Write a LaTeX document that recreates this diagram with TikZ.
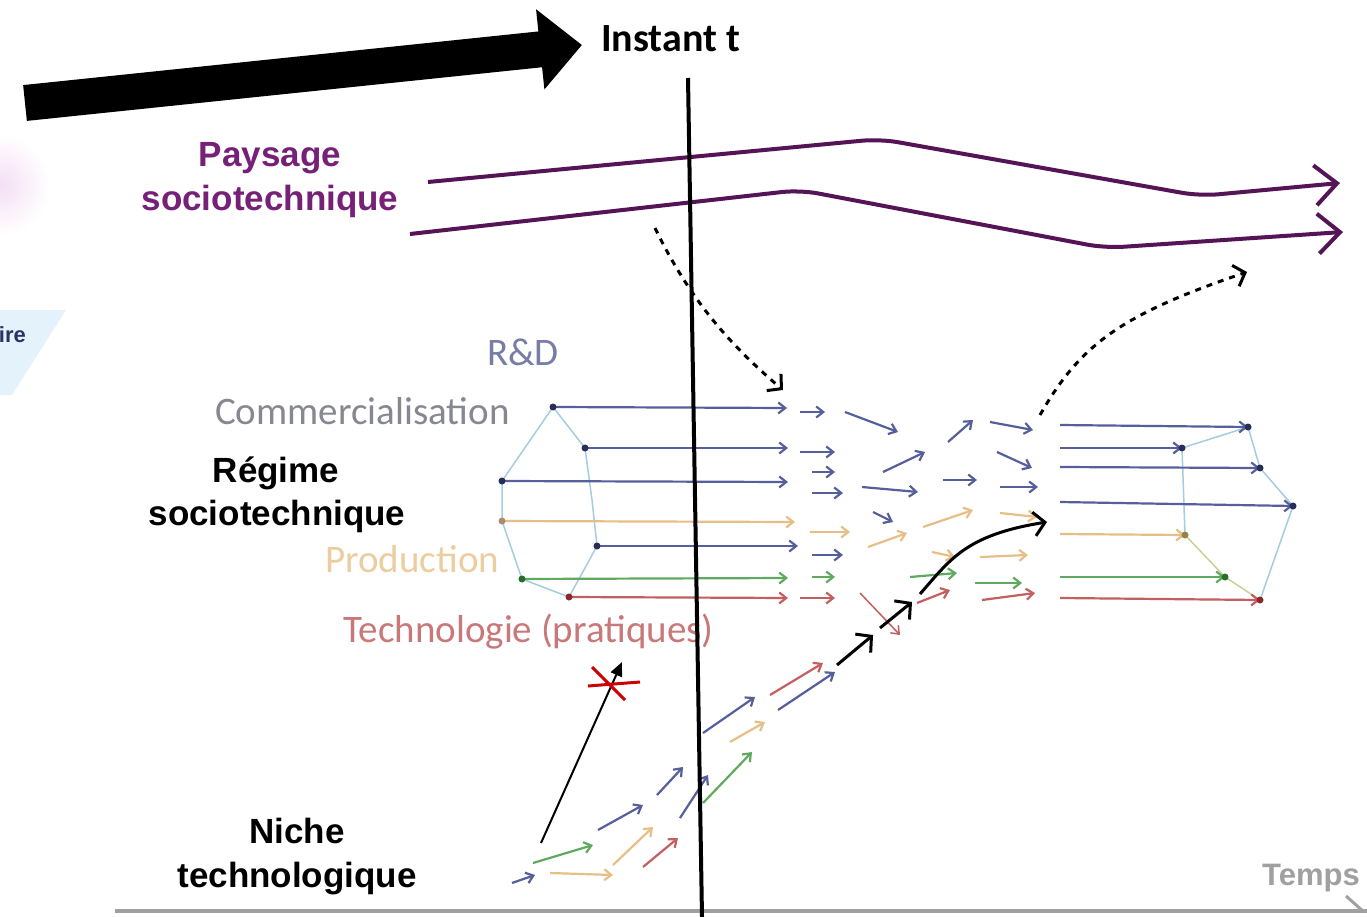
\documentclass[tikz,border=0pt]{standalone}
\usepackage{fontspec}
\setmainfont{Liberation Sans}
\newfontfamily\carl{Carlito}
\usetikzlibrary{arrows.meta}
\definecolor{navyA}{RGB}{85,95,155}
\definecolor{navyD}{RGB}{40,45,90}
\definecolor{orA}{RGB}{232,190,135}
\definecolor{grA}{RGB}{95,170,95}
\definecolor{rdA}{RGB}{195,95,95}
\definecolor{purT}{RGB}{118,32,120}
\definecolor{purL}{RGB}{85,20,85}
\definecolor{lblue}{RGB}{165,205,225}
\definecolor{grayT}{RGB}{135,135,145}
\definecolor{rndT}{RGB}{120,125,165}
\definecolor{prodT}{RGB}{236,205,160}
\definecolor{techT}{RGB}{200,120,120}
\definecolor{axisG}{RGB}{160,160,160}
\definecolor{pinkB}{RGB}{244,222,244}
\definecolor{blueB}{RGB}{228,242,252}
\definecolor{ireT}{RGB}{40,50,100}
\definecolor{dotO}{RGB}{170,140,110}
\definecolor{dotG}{RGB}{40,110,40}
\definecolor{dotR}{RGB}{140,40,40}
\definecolor{dotO2}{RGB}{150,130,70}
\definecolor{ygreen}{RGB}{200,210,150}
\tikzset{
  ar/.style={line width=2.2pt, -{Straight Barb[length=7pt,width=11pt]}},
  nv/.style={ar, draw=navyA},
  og/.style={ar, draw=orA},
  gn/.style={ar, draw=grA},
  rd/.style={ar, draw=rdA},
  bigT/.style={font=\fontsize{35}{40}\selectfont\bfseries, anchor=base, inner sep=0pt},
  lab/.style={font=\carl\fontsize{39}{41}\selectfont, anchor=base west, inner sep=0pt},
  blk/.style={line width=3pt, -{Straight Barb[length=11pt,width=24pt]}},
  dsh/.style={line width=3pt, dash pattern=on 6pt off 6pt, -{Straight Barb[length=10pt,width=22pt]}},
  purpline/.style={draw=purL, line width=4pt, rounded corners=18pt, -{Straight Barb[length=22pt,width=40pt]}},
}
\begin{document}
\begin{tikzpicture}[x=1pt,y=-1pt]
\useasboundingbox (0,0) rectangle (1367,917);
\fill[white] (0,0) rectangle (1367,917);
% faint remnants at left edge
\shade[inner color=pinkB, outer color=white] (0,185) circle (50);
\fill[blueB] (0,310) -- (66,310) -- (12,395) -- (0,395) -- cycle;
\node[font=\fontsize{22}{24}\selectfont\bfseries, text=ireT, anchor=base east, inner sep=0pt] (ire) at (26,342) {ire};

% big arrow
\draw[line width=36pt, -{Triangle[length=42pt,width=78pt]}] (25,103) -- (582,45);
\node[font=\carl\fontsize{40}{42}\selectfont\bfseries, anchor=base west, inner sep=0pt] (inst) at (601,52) {Instant t};

% texts
\node[bigT, text=purT] (pay1) at (270,167) {Paysage};
\node[bigT, text=purT] (pay2) at (270,211) {sociotechnique};
\node[bigT] (reg1) at (276,482) {Régime};
\node[bigT] (reg2) at (277,525) {sociotechnique};
\node[bigT] (nic1) at (297,843) {Niche};
\node[bigT] (nic2) at (297,887) {technologique};
\node[lab, text=rndT] (rnd) at (487,365) {R\&D};
\node[lab, text=grayT] (com) at (215,424) {Commercialisation};
\node[lab, text=prodT] (prod) at (325,572) {Production};
\node[lab, text=techT] (tech) at (343,642) {Technologie (pratiques)};
\node[font=\fontsize{31}{33}\selectfont\bfseries, text=axisG, anchor=base east, inner sep=0pt] (temps) at (1360,885) {Temps};

% time axis
\draw[axisG, line width=4pt] (115,911) -- (1367,911);
\draw[axisG, line width=3pt] (1346,896) -- (1364,912);

% paysage lines
\draw[purpline] (428,182) -- (880,139) -- (1200,196) -- (1340,183);
\draw[purpline] (410,234) -- (800,190) -- (1105,248) -- (1343,232);

% regime left structure
\draw[lblue, line width=1.5pt] (553,407) -- (585,448) -- (592,500) -- (597,546) -- (569,597) -- (522,579) -- (502,521) -- (502,481) -- cycle;
\draw[nv] (553,407) -- (787,408);
\draw[nv] (585,448) -- (788,448);
\draw[nv] (502,481) -- (788,482);
\draw[og] (502,521) -- (795,522);
\draw[nv] (597,546) -- (798,546);
\draw[gn] (522,579) -- (788,578);
\draw[rd] (569,597) -- (788,598);
\foreach \p in {(553,407),(585,448),(502,481),(597,546)} \fill[navyD] \p circle (3.5);
\fill[dotO] (502,521) circle (3.5);
\fill[dotG] (522,579) circle (3.5);
\fill[dotR] (569,597) circle (3.5);

% column B
\draw[nv] (800,412) -- (825,412);
\draw[nv] (800,452) -- (835,452);
\draw[nv] (812,472) -- (835,472);
\draw[nv] (812,493) -- (843,493);
\draw[og] (810,532) -- (850,532);
\draw[nv] (812,555) -- (843,555);
\draw[gn] (812,577) -- (835,577);
\draw[rd] (800,598) -- (835,598);

% column C (scattered)
\draw[nv] (845,412) -- (898,432);
\draw[nv] (883,472) -- (925,452);
\draw[nv] (862,487) -- (918,492);
\draw[nv] (873,512) -- (893,522);
\draw[og] (868,547) -- (907,533);
\draw[og] (923,527) -- (973,510);
\draw[nv] (948,442) -- (973,420);
\draw[nv] (943,480) -- (977,480);
\draw[nv] (990,422) -- (1033,430);
\draw[nv] (997,452) -- (1032,468);
\draw[nv] (1000,487) -- (1038,487);
\draw[og] (1000,513) -- (1037,517);
\draw[og] (932,552) -- (955,557);
\draw[og] (980,557) -- (1028,555);
\draw[gn] (910,577) -- (957,573);
\draw[gn] (975,583) -- (1022,583);
\draw[rd] (917,603) -- (950,590);
\draw[rd] (982,600) -- (1035,593);
\draw[rd, line width=1.5pt] (860,593) -- (900,635);

% regime right structure
\draw[lblue, line width=1.5pt] (1182,448) -- (1248,427) -- (1260,468) -- (1293,506) -- (1260,600);
\draw[lblue, line width=1.5pt] (1182,448) -- (1185,535);
\draw[ygreen, line width=1.5pt] (1185,535) -- (1225,577) -- (1260,600);
\draw[nv] (1060,425) -- (1248,427);
\draw[nv] (1060,448) -- (1182,448);
\draw[nv] (1060,467) -- (1260,468);
\draw[nv] (1060,502) -- (1293,506);
\draw[og] (1060,534) -- (1185,535);
\draw[gn] (1060,577) -- (1225,577);
\draw[rd] (1060,598) -- (1260,600);
\foreach \p in {(1248,427),(1182,448),(1260,468),(1293,506)} \fill[navyD] \p circle (3.5);
\fill[dotO2] (1185,535) circle (3.5);
\fill[dotG] (1225,577) circle (3.5);
\fill[dotR] (1260,600) circle (3.5);

% niche arrows
\draw[nv] (512,883) -- (535,875);
\draw[gn] (533,863) -- (593,845);
\draw[og] (550,873) -- (613,875);
\draw[nv] (598,830) -- (643,805);
\draw[og] (613,865) -- (653,827);
\draw[rd] (643,867) -- (678,838);
\draw[nv] (657,795) -- (683,767);
\draw[nv] (680,818) -- (708,775);
\draw[gn] (703,803) -- (752,752);
\draw[nv] (703,733) -- (755,697);
\draw[og] (730,742) -- (765,722);
\draw[rd] (770,695) -- (823,663);
\draw[nv] (778,710) -- (835,672);

% failed niche path
\draw[line width=2pt, -{Triangle[length=14pt,width=12pt]}] (541,843) -- (622,662);
\draw[red!80!black, line width=3pt] (588,686) -- (640,682);
\draw[red!80!black, line width=3pt] (592,667) -- (625,700);

% instant t line
\draw[line width=4pt] (688,78) -- (702,917);

% black breakthrough arrows
\draw[blk] (837,665) -- (873,635);
\draw[blk] (880,628) -- (912,602);
\draw[blk] (920,594) .. controls (950,560) and (965,535) .. (1047,522);

% dashed landscape influences
\draw[dsh] (655,228) .. controls (690,300) and (730,345) .. (783,390);
\draw[dsh] (1040,415) .. controls (1080,345) and (1120,315) .. (1247,272);
\end{tikzpicture}
\end{document}
